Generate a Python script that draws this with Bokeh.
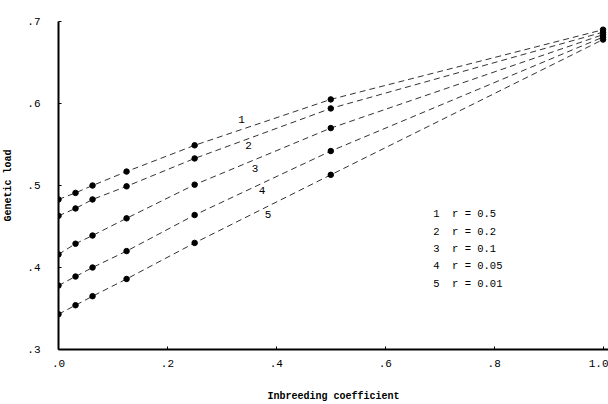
from bokeh.plotting import figure
from bokeh.models import FixedTicker, ColumnDataSource
from bokeh.core.properties import value
from bokeh.embed import file_html
from bokeh.resources import INLINE

# Inbreeding coefficient values
F = [0.0, 0.03125, 0.0625, 0.125, 0.25, 0.5, 1.0]

# Genetic load for each recombination value r
load_r05 = [0.483, 0.491, 0.500, 0.517, 0.549, 0.605, 0.690]
load_r02 = [0.463, 0.472, 0.483, 0.499, 0.533, 0.594, 0.687]
load_r01 = [0.416, 0.429, 0.439, 0.460, 0.501, 0.570, 0.684]
load_r005 = [0.378, 0.389, 0.400, 0.420, 0.464, 0.542, 0.681]
load_r001 = [0.343, 0.354, 0.365, 0.386, 0.430, 0.513, 0.678]

series = [load_r05, load_r02, load_r01, load_r005, load_r001]
series_ids = ["1", "2", "3", "4", "5"]
r_labels = ["0.5", "0.2", "0.1", "0.05", "0.01"]

# label positions (data coords) for curve numbers
id_x = [0.336, 0.349, 0.361, 0.374, 0.385]
id_y = [0.5805, 0.549, 0.521, 0.4945, 0.4641]

# legend text positions
leg_x = [0.688] * 5
leg_y = [0.4653, 0.4438, 0.4228, 0.4013, 0.3802]

x_ticks = [0.0, 0.2, 0.4, 0.6, 0.8, 1.0]
x_tick_labels = [".0", ".2", ".4", ".6", ".8", "1.0"]
y_ticks = [0.3, 0.4, 0.5, 0.6, 0.7]
y_tick_labels = [".3", ".4", ".5", ".6", ".7"]

MONO = "Liberation Mono"
NB = "\u00a0"

p = figure(width=608, height=404, output_backend="svg", toolbar_location=None,
           x_range=(0.0, 1.01), y_range=(0.3, 0.7),
           min_border_left=56, min_border_right=0, min_border_top=21, min_border_bottom=54)
p.outline_line_color = None
p.xgrid.visible = False
p.ygrid.visible = False
p.background_fill_color = "white"
p.border_fill_color = "white"

for ys in series:
    p.line(F, ys, line_color="#333333", line_width=1, line_dash="6 4")
    p.scatter(F, ys, size=5.5, color="black", marker="circle")

lab_src = ColumnDataSource(dict(x=id_x, y=id_y, t=series_ids))
p.text(x="x", y="y", text="t", source=lab_src, text_font=value(MONO),
       text_font_size="11px", text_align="center", text_baseline="middle", text_color="black")

leg_text = [f"{i}{NB}{NB}r{NB}={NB}{r}" for i, r in zip(series_ids, r_labels)]
leg_src = ColumnDataSource(dict(x=leg_x, y=leg_y, t=leg_text))
p.text(x="x", y="y", text="t", source=leg_src, text_font=value(MONO),
       text_font_size="10.5px", text_align="left", text_baseline="middle", text_color="black")

p.xaxis.ticker = FixedTicker(ticks=x_ticks)
p.xaxis.major_label_overrides = {t: l for t, l in zip(x_ticks, x_tick_labels)}
p.yaxis.ticker = FixedTicker(ticks=y_ticks)
p.yaxis.major_label_overrides = {t: l for t, l in zip(y_ticks, y_tick_labels)}

for ax in (p.xaxis, p.yaxis):
    ax.axis_line_width = 2
    ax.axis_line_color = "black"
    ax.major_tick_in = 3
    ax.major_tick_out = 0
    ax.minor_tick_line_color = None
    ax.major_label_text_font = MONO
    ax.major_label_text_font_size = "11px"
    ax.major_label_text_color = "black"
    ax.axis_label_text_font = MONO
    ax.axis_label_text_font_size = "10px"
    ax.axis_label_text_font_style = "bold"
    ax.axis_label_text_color = "black"

p.xaxis.axis_label = "Inbreeding coefficient"
p.yaxis.axis_label = "Genetic load"
p.xaxis.major_label_standoff = 10
p.yaxis.major_label_standoff = 18
p.xaxis.axis_label_standoff = 21
p.yaxis.axis_label_standoff = 10

open("out.html", "w").write(file_html(p, INLINE))
